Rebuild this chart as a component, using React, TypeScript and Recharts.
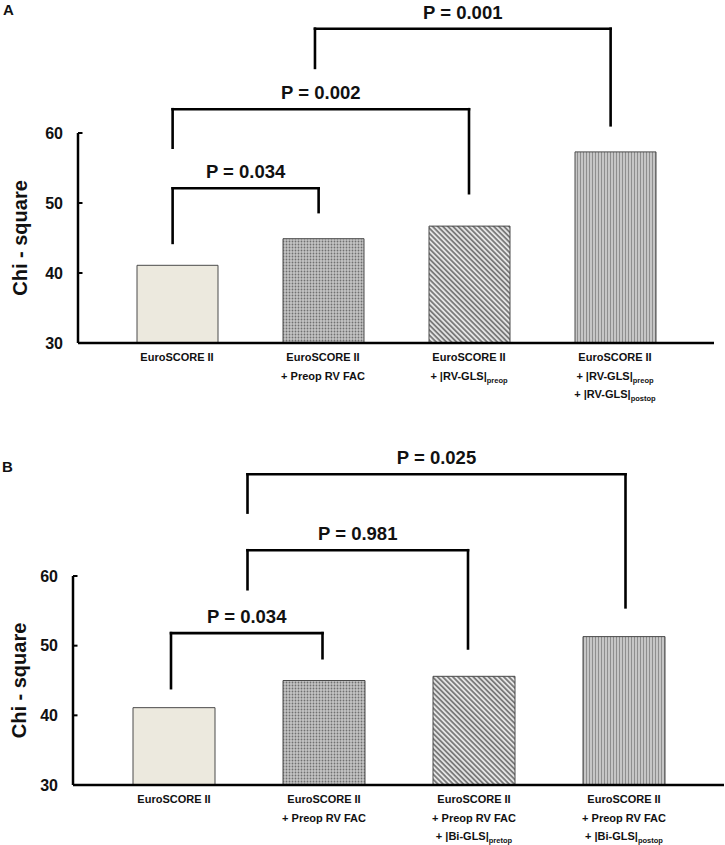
import React from 'react';
import { BarChart, Bar, XAxis, YAxis, Cell, ReferenceLine } from 'recharts';

type Line = { t: string; s?: string };

const categoriesA = [
  'EuroSCORE II',
  'EuroSCORE II + Preop RV FAC',
  'EuroSCORE II + |RV-GLS|preop',
  'EuroSCORE II + |RV-GLS|preop + |RV-GLS|postop',
];
const chiSquareA = [41.1, 44.9, 46.7, 57.3];
const tickLabelsA: Line[][] = [
  [{ t: 'EuroSCORE II' }],
  [{ t: 'EuroSCORE II' }, { t: '+ Preop RV FAC' }],
  [{ t: 'EuroSCORE II' }, { t: '+ |RV-GLS|', s: 'preop' }],
  [{ t: 'EuroSCORE II' }, { t: '+ |RV-GLS|', s: 'preop' }, { t: '+ |RV-GLS|', s: 'postop' }],
];

const categoriesB = [
  'EuroSCORE II',
  'EuroSCORE II + Preop RV FAC',
  'EuroSCORE II + Preop RV FAC + |Bi-GLS|pretop',
  'EuroSCORE II + Preop RV FAC + |Bi-GLS|postop',
];
const chiSquareB = [41.1, 45.0, 45.6, 51.3];
const tickLabelsB: Line[][] = [
  [{ t: 'EuroSCORE II' }],
  [{ t: 'EuroSCORE II' }, { t: '+ Preop RV FAC' }],
  [{ t: 'EuroSCORE II' }, { t: '+ Preop RV FAC' }, { t: '+ |Bi-GLS|', s: 'pretop' }],
  [{ t: 'EuroSCORE II' }, { t: '+ Preop RV FAC' }, { t: '+ |Bi-GLS|', s: 'postop' }],
];

const yTicks = [30, 40, 50, 60];

// comparison brackets: x in category-index units, y in chi-square units
const bracketsA = [
  { label: 'P = 0.034', x1: -0.03, x2: 0.97, top: 52.1, y1: 44.3, y2: 48.7 },
  { label: 'P = 0.002', x1: -0.03, x2: 2.0, top: 63.4, y1: 57.9, y2: 51.4 },
  { label: 'P = 0.001', x1: 0.945, x2: 2.97, top: 74.9, y1: 69.3, y2: 61.1 },
];
const bracketsB = [
  { label: 'P = 0.034', x1: -0.02, x2: 0.99, top: 51.8, y1: 43.9, y2: 48.2 },
  { label: 'P = 0.981', x1: 0.49, x2: 1.96, top: 63.7, y1: 58.1, y2: 49.6 },
  { label: 'P = 0.025', x1: 0.49, x2: 3.01, top: 74.6, y1: 69.1, y2: 55.5 },
];

const patternIds = ['url(#solidBeige)', 'url(#dots)', 'url(#diag)', 'url(#vert)'];

const FONT = '"Liberation Sans", Arial, Helvetica, sans-serif';

function makeXTick(categories: string[], lines: Line[][]) {
  return (props: any) => {
    const { x, y, payload } = props;
    const idx = categories.indexOf(payload.value);
    const ls = lines[idx] || [];
    return (
      <g>
        {ls.map((l, i) => (
          <text
            key={i}
            x={x}
            y={y + 18 + i * 18.5}
            textAnchor="middle"
            fontSize={11}
            fontWeight="bold"
            fontFamily={FONT}
            fill="#111"
          >
            <tspan>{l.t}</tspan>
            {l.s ? (
              <tspan fontSize={7.5} dy={3}>
                {l.s}
              </tspan>
            ) : null}
          </text>
        ))}
      </g>
    );
  };
}

const YTick = (props: any) => {
  const { x, y, payload } = props;
  return (
    <g>
      <line x1={x} x2={x + 4.5} y1={y} y2={y} stroke="#000" strokeWidth={2} />
      <text
        x={x - 15}
        y={y}
        dy={5.5}
        textAnchor="end"
        fontSize={16}
        fontWeight="bold"
        fontFamily={FONT}
        fill="#111"
      >
        {payload.value}
      </text>
    </g>
  );
};

function makeYTitle(dx: number) {
  return (props: any) => {
    const vb = props.viewBox || {};
    const cx = vb.x + dx;
    const cy = vb.y + vb.height / 2;
    return (
      <text
        x={cx}
        y={cy}
        transform={`rotate(-90, ${cx}, ${cy})`}
        textAnchor="middle"
        dominantBaseline="central"
        fontSize={20}
        fontWeight="bold"
        fontFamily={FONT}
        fill="#111"
      >
        Chi - square
      </text>
    );
  };
}

type Bracket = { label: string; x1: number; x2: number; top: number; y1: number; y2: number };

function renderBrackets(brackets: Bracket[]) {
  const common = {
    xAxisId: 'num',
    stroke: '#000',
    strokeWidth: 2.6,
    ifOverflow: 'visible' as const,
    strokeLinecap: 'square' as const,
  };
  const out: React.ReactNode[] = [];
  brackets.forEach((b, i) => {
    out.push(
      <ReferenceLine
        key={`l${i}`}
        {...common}
        segment={[
          { x: b.x1, y: b.y1 },
          { x: b.x1, y: b.top },
        ]}
      />
    );
    out.push(
      <ReferenceLine
        key={`h${i}`}
        {...common}
        segment={[
          { x: b.x1, y: b.top },
          { x: b.x2, y: b.top },
        ]}
        label={{
          value: b.label,
          position: 'top',
          offset: 10,
          fill: '#111',
          fontSize: 18.5,
          fontWeight: 'bold',
          fontFamily: FONT,
        }}
      />
    );
    out.push(
      <ReferenceLine
        key={`r${i}`}
        {...common}
        segment={[
          { x: b.x2, y: b.top },
          { x: b.x2, y: b.y2 },
        ]}
      />
    );
  });
  return out;
}

type PanelProps = {
  categories: string[];
  values: number[];
  lines: Line[][];
  brackets: Bracket[];
  height: number;
  margin: { top: number; right: number; bottom: number; left: number };
  yWidth: number;
  xHeight: number;
  pad: { left: number; right: number };
  band: number;
  barSize: number;
  titleDx: number;
};

function Panel(p: PanelProps) {
  const data = p.categories.map((c, i) => ({ name: c, value: p.values[i], idx: i }));
  const numPad = { left: p.pad.left + p.band / 2, right: p.pad.right + p.band / 2 };
  return (
    <BarChart width={725} height={p.height} data={data} margin={p.margin}>
      <XAxis
        dataKey="name"
        type="category"
        padding={p.pad}
        axisLine={{ stroke: '#000', strokeWidth: 2.5 }}
        tickLine={false}
        tickSize={0}
        tickMargin={0}
        interval={0}
        height={p.xHeight}
        tick={makeXTick(p.categories, p.lines)}
      />
      <XAxis
        xAxisId="num"
        dataKey="idx"
        type="number"
        domain={[0, p.categories.length - 1]}
        padding={numPad}
        allowDataOverflow
        hide
      />
      <YAxis
        type="number"
        domain={[30, 60]}
        ticks={yTicks}
        interval={0}
        width={p.yWidth}
        axisLine={{ stroke: '#000', strokeWidth: 2.5 }}
        tickLine={false}
        tickSize={0}
        tickMargin={0}
        tick={YTick}
        label={{ content: makeYTitle(p.titleDx) } as any}
      />
      <Bar dataKey="value" barSize={p.barSize} isAnimationActive={false} stroke="#4a4a4a" strokeWidth={1}>
        {data.map((d, i) => (
          <Cell key={d.name} fill={patternIds[i]} />
        ))}
      </Bar>
      {renderBrackets(p.brackets)}
    </BarChart>
  );
}

export default function App() {
  return (
    <div
      style={{
        position: 'absolute',
        left: 0,
        top: 0,
        width: 725,
        height: 845,
        background: '#fff',
        fontFamily: FONT,
      }}
    >
      <svg width={0} height={0} style={{ position: 'absolute' }}>
        <defs>
          <pattern id="solidBeige" patternUnits="userSpaceOnUse" width={4} height={4}>
            <rect width={4} height={4} fill="#ECE9DE" />
          </pattern>
          <pattern id="dots" patternUnits="userSpaceOnUse" width={3} height={3}>
            <rect width={3} height={3} fill="#c4c4c4" />
            <circle cx={1.5} cy={1.5} r={0.9} fill="#707070" />
          </pattern>
          <pattern id="diag" patternUnits="userSpaceOnUse" width={3.6} height={3.6} patternTransform="rotate(-45)">
            <rect width={3.6} height={3.6} fill="#e4e4e4" />
            <line x1={1.8} y1={0} x2={1.8} y2={3.6} stroke="#666" strokeWidth={1.5} />
          </pattern>
          <pattern id="vert" patternUnits="userSpaceOnUse" width={3} height={3}>
            <rect width={3} height={3} fill="#c6c6c6" />
            <line x1={1.5} y1={0} x2={1.5} y2={3} stroke="#8e8e8e" strokeWidth={1} />
          </pattern>
        </defs>
      </svg>
      <div
        style={{ position: 'absolute', left: 3, top: 1, fontSize: 15, fontWeight: 'bold', fontFamily: FONT, color: '#111' }}
      >
        A
      </div>
      <div
        style={{ position: 'absolute', left: 2, top: 458, fontSize: 15, fontWeight: 'bold', fontFamily: FONT, color: '#111' }}
      >
        B
      </div>
      <div style={{ position: 'absolute', left: 0, top: 0 }}>
        <Panel
          categories={categoriesA}
          values={chiSquareA}
          lines={tickLabelsA}
          brackets={bracketsA}
          height={420}
          margin={{ top: 133, right: 11, bottom: 17, left: 0 }}
          yWidth={78}
          xHeight={60}
          pad={{ left: 26, right: 26 }}
          band={146}
          barSize={81}
          titleDx={20}
        />
      </div>
      <div style={{ position: 'absolute', left: 0, top: 420 }}>
        <Panel
          categories={categoriesB}
          values={chiSquareB}
          lines={tickLabelsB}
          brackets={bracketsB}
          height={425}
          margin={{ top: 156, right: 1, bottom: 2, left: 0 }}
          yWidth={73}
          xHeight={58}
          pad={{ left: 26, right: 25 }}
          band={150}
          barSize={82}
          titleDx={19}
        />
      </div>
    </div>
  );
}
